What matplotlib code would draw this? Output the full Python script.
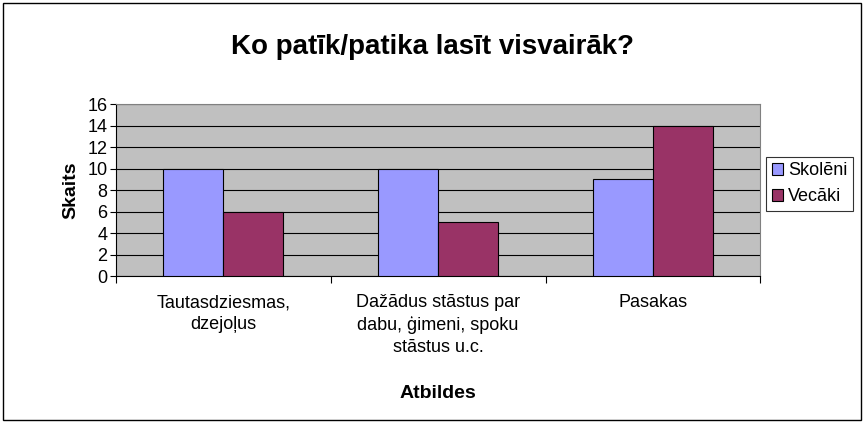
import matplotlib
matplotlib.use("Agg")
import matplotlib.pyplot as plt
import numpy as np
from matplotlib.patches import Rectangle

categories = ["Tautasdziesmas,\ndzejoļus", "Dažādus stāstus par\ndabu, ģimeni, spoku\nstāstus u.c.", "Pasakas"]
skoleni = [10, 10, 9]
vecaki = [6, 5, 14]
series_names = ["Skolēni", "Vecāki"]
yticks = [0, 2, 4, 6, 8, 10, 12, 14, 16]

plt.rcParams['font.family'] = ['Liberation Sans', 'DejaVu Sans']

fig = plt.figure(figsize=(8.65, 4.23), dpi=100)
fig.patches.append(Rectangle((0.004, 0.006), 0.991, 0.988, transform=fig.transFigure,
                             fill=False, edgecolor='black', linewidth=1.0))
ax = fig.add_axes([0.134, 0.347, 0.745, 0.407])
ax.set_facecolor('#C0C0C0')

x = np.arange(len(categories))
w = 0.28
b1 = ax.bar(x - w/2, skoleni, w, color='#9999FF', edgecolor='black', linewidth=0.8, label=series_names[0], zorder=3)
b2 = ax.bar(x + w/2, vecaki, w, color='#993366', edgecolor='black', linewidth=0.8, label=series_names[1], zorder=3)

ax.set_xlim(-0.5, len(categories) - 0.5)
ax.set_ylim(0, 16)
ax.set_yticks(yticks)
ax.yaxis.grid(True, color='black', linewidth=0.8, zorder=1)
ax.set_axisbelow(True)
ax.tick_params(axis='y', labelsize=13, length=4, width=0.8, pad=2)
ax.set_xticks(x)
ax.set_xticklabels(categories, fontsize=13, va='top', linespacing=1.35)
ax.tick_params(axis='x', length=0, pad=13)
ax.set_xticks(np.arange(len(categories) + 1) - 0.5, minor=True)
ax.tick_params(axis='x', which='minor', length=5, width=0.8)

for s in ['top', 'right']:
    ax.spines[s].set_color('#808080')
    ax.spines[s].set_linewidth(0.8)
for s in ['left', 'bottom']:
    ax.spines[s].set_color('black')
    ax.spines[s].set_linewidth(0.8)

ax.set_ylabel("Skaits", fontsize=14, fontweight='bold', labelpad=6)
ax.set_xlabel("Atbildes", fontsize=14, fontweight='bold', labelpad=21)
fig.text(0.5, 0.889, "Ko patīk/patika lasīt visvairāk?", ha='center', va='center',
         fontsize=20, fontweight='bold')

leg = fig.legend(handles=[b1, b2], labels=series_names, loc='upper left',
                 bbox_to_anchor=(0.886, 0.629), frameon=True, fancybox=False,
                 edgecolor='black', fontsize=13, handlelength=0.6, handleheight=0.6,
                 handletextpad=0.3, borderpad=0.3, labelspacing=0.5, borderaxespad=0)
leg.get_frame().set_linewidth(0.8)

fig.savefig("out.png", dpi=100)
